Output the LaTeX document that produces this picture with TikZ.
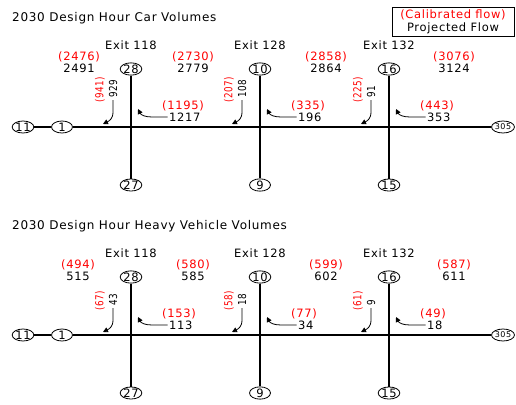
\documentclass[tikz,border=0pt]{standalone}
\usepackage{fontspec}
\setmainfont{DejaVu Sans}[LetterSpace=6]
\usetikzlibrary{arrows.meta,shapes.geometric}
\newcommand\narrowtext[1]{\scalebox{0.8}[1]{#1}}
\newcommand\corridor[5]{%
\begin{scope}[yshift=-#2pt]
\node[titlefont, anchor=west] (#1title) at (12,18) {#3};
\node[jct] (#1ja) at (23,127) {11};
\node[jct] (#1jb) at (62,127) {1};
\node[jct] (#1jc) at (503,127) {\fontsize{8}{9}\selectfont 305};
\draw[hroad] (#1ja) -- (#1jb);
\draw[hroad] (#1jb) -- (#1jc);
\foreach \X/\ex/\tp/\bt/\lr/\lp/\rr/\rp in {#4} {
  \node (#1exit\ex) at (\X,45) {Exit \ex};
  \node[jct] (#1t\ex) at (\X,69) {\tp};
  \node[jct] (#1b\ex) at (\X,185) {\bt};
  \draw[vroad] (#1t\ex) -- (#1b\ex);
  \node[cal, rotlab] (#1lr\ex) at (\X-31,103) {\narrowtext{(\lr)}};
  \node[rotlab] (#1lp\ex) at (\X-18,98) {\narrowtext{\lp}};
  \coordinate (#1la\ex) at (\X-28,124);
  \draw[turn] ([yshift=-2pt]#1lp\ex.west) -- (\X-18,112) .. controls (\X-18,119) and (\X-22,121) .. (#1la\ex);
  \node[cal, anchor=west] (#1rr\ex) at (\X+31,106) {(\rr)};
  \node[anchor=west] (#1rp\ex) at (\X+38,117) {\rp};
  \coordinate (#1ra\ex) at (\X+7,109);
  \draw[turn] ([xshift=-1.5pt]#1rp\ex.west) -- (\X+21,117) .. controls (\X+14,117) and (\X+10,115) .. (#1ra\ex);
}
\foreach \X/\r/\p [count=\n] in {#5} {
  \node[cal] (#1vr\n) at (\X,57) {(\r)};
  \node (#1vp\n) at (\X,68) {\p};
}
\end{scope}}
\begin{document}
\begin{tikzpicture}[x=1pt,y=-1pt,
  every node/.style={inner sep=0pt, font=\fontsize{11.5}{13}\selectfont},
  titlefont/.style={font=\fontsize{12}{14}\selectfont},
  rotlab/.style={rotate=90, anchor=west, font=\fontsize{11}{12}\selectfont},
  jct/.style={ellipse, draw, line width=0.8pt, minimum width=21pt, minimum height=12pt, inner sep=0pt, fill=white},
  hroad/.style={line width=1.1pt},
  vroad/.style={line width=1.6pt},
  cal/.style={text=red},
  turn/.style={line width=0.8pt, -{Triangle[length=5pt,width=5pt]}},
  ]
\useasboundingbox (0,0) rectangle (516,404);
\node[draw, line width=0.8pt, align=center, minimum width=122pt, minimum height=29pt] (legend) at (453,21.5)
  {\textcolor{red}{(Calibrated flow)}\\Projected Flow};
\corridor{c}{0}{2030 Design Hour Car Volumes}
  {131/118/28/27/941/929/1195/1217, 260/128/10/9/207/108/335/196, 389/132/16/15/225/91/443/353}
  {79/2476/2491, 193/2730/2779, 326/2858/2864, 454/3076/3124}
\corridor{h}{208}{2030 Design Hour Heavy Vehicle Volumes}
  {131/118/28/27/67/43/153/113, 260/128/10/9/58/18/77/34, 389/132/16/15/61/9/49/18}
  {78/494/515, 193/580/585, 326/599/602, 454/587/611}
\end{tikzpicture}
\end{document}
